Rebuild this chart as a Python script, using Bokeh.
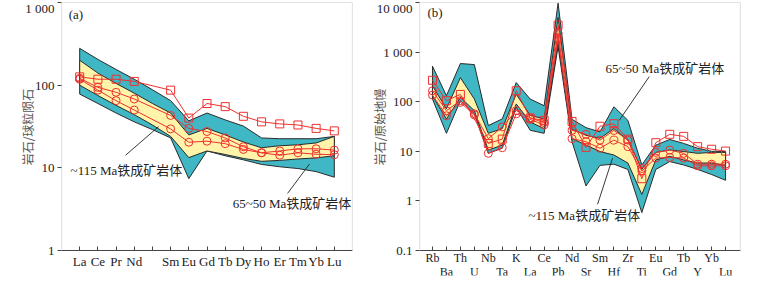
import numpy as np
from bokeh.plotting import figure
from bokeh.layouts import row
from bokeh.models import (FixedTicker, CustomJSTickFormatter, Label, Range1d, BoxAnnotation)
from bokeh.embed import file_html
from bokeh.resources import INLINE

# ---------------- (a) REE, chondrite normalised ----------------
ree = ["La", "Ce", "Pr", "Nd", "", "Sm", "Eu", "Gd", "Tb", "Dy", "Ho", "Er", "Tm", "Yb", "Lu"]
# envelope 65~50 Ma (blue)
a_blue_top = [279, 205, 155, 118, 88, 65, 37, 46, 38, 32, 23, 22.5, 22.5, 22.5, 24]
a_blue_bot = [78, 60, 46, 36, 29, 23, 7.4, 16, 14, 12.5, 11, 10.3, 9.8, 9, 7.7]
# envelope ~115 Ma (yellow)
a_yel_top = [200, 140, 105, 80, 60, 46, 25, 30, 25, 20.5, 17.5, 18.5, 19, 20, 24]
a_yel_bot = [100, 75, 57, 44, 33, 24, 13.3, 16, 14.5, 13, 12, 12.3, 12.8, 13.2, 14]
# samples (None = not analysed)
a_sq = [126, 118, 118, 111, None, 87, 40, 60, 55, 42, 36, 34, 33, 30, 28]
a_c1 = [121, 94, 82, 68, None, 43, 30, 27.5, 23, 18, 15.2, 16, 17, 17, 16.4]
a_c2 = [118, 87, 65, 50, None, 29.6, 20.4, 21, 19.6, 16.7, 15.2, 14.2, 15.2, 14.6, 14.4]

# ---------------- (b) spider, primitive mantle normalised ----------------
spd = ["Rb", "Ba", "Th", "U", "Nb", "Ta", "K", "La", "Ce", "Pb", "Nd", "Sr", "Sm", "Hf",
       "Zr", "Ti", "Eu", "Gd", "Tb", "Y", "Yb", "Lu"]
b_blue_top = [520, 132, 588, 560, 33, 45, 243, 113, 83, 9700, 44, 30, 24.6, 79, 42, 5.3,
              13.3, 17.3, 14.4, 11.5, 10, 9.9]
b_blue_bot = [113, 23, 105, 57, 9.1, 11.5, 77, 26.5, 23, 1300, 15.6, 2.0, 5.2, 5.5, 4.3, 0.58,
              4.3, 6.2, 5.3, 4.3, 3.4, 2.6]
b_yel_top = [208, 72, 305, 113, 23, 28.6, 142, 53, 45, 5000, 28, 21, 18.3, 28.6, 16.8, 4.3,
             9.5, 10.6, 9.9, 9.1, 9.5, 9.5]
b_yel_bot = [132, 45, 122, 66, 10.6, 13.3, 90, 39, 28.6, 1600, 18, 13.4, 9.9, 8.4, 5.8, 1.35,
             6.7, 7.9, 6.7, 5.8, 5.8, 5.2]
b_sq = [270, 105, 140, None, 14.4, 17.6, 166, 47, 42, 3500, 40, 12, 32, 36, 17.6, 2.8,
        14.9, 22, 20, 12.4, 11, 10.1]
b_c1 = [166, 66, 105, 57, 18, 31, 66, 47, 38, 2400, 26.5, 22, 16.8, 26.5, 16.8, 4.5,
        9.5, 10.6, 9.1, 5.5, 5.5, 5.5]
b_c2 = [136, 52, 97, 54, 9.1, 11.8, 57, 44, 34, 1900, 18, 15.6, 11.5, 16.8, 12.4, 4.0,
        7.3, 7.5, 7.3, 5.1, 5.1, 5.1]

label_old = "~115 Ma铁成矿岩体"
label_young = "65~50 Ma铁成矿岩体"

BLUE = "#3fb7c4"
YELLOW = "#fff4aa"
RED = "#f0302e"
EDGE = "#2b2b2b"
AX = "#444444"
SERIF = "Liberation Serif"
MIXED = "Liberation Serif, Noto Sans CJK SC"

yfmt = CustomJSTickFormatter(code="""
if (tick >= 1000) { return Math.round(tick).toString().replace(/\\B(?=(\\d{3})+(?!\\d))/g, ' '); }
if (tick < 1) { return tick.toFixed(1); }
return Math.round(tick).toString();
""")


def style(p, nx, yticks, xlo, xhi):
    ymin, ymax = yticks[0], yticks[-1]
    p.outline_line_color = None
    p.xgrid.visible = False
    p.ygrid.visible = False
    for ax in (p.xaxis[0], p.yaxis[0]):
        ax.axis_line_color = AX
        ax.major_tick_line_color = AX
        ax.minor_tick_line_color = None
        ax.major_label_text_font = SERIF
        ax.major_label_text_font_size = "13px"
        ax.major_label_text_color = "#222222"
    # x axis drawn at the lowest y value; the labels sit below it inside the frame
    p.xaxis.ticker = FixedTicker(ticks=list(range(nx)))
    p.xaxis.fixed_location = ymin
    p.xaxis.major_tick_in = 4
    p.xaxis.major_tick_out = 0
    p.xaxis.major_label_standoff = 4
    p.xaxis.major_label_text_line_height = 0.95
    p.yaxis.ticker = FixedTicker(ticks=yticks)
    p.yaxis.formatter = yfmt
    p.yaxis.axis_line_color = None
    p.yaxis.major_tick_in = 0
    p.yaxis.major_tick_out = 4
    p.yaxis.major_label_standoff = 3
    p.yaxis.axis_label_text_font = "Noto Sans CJK SC"
    p.yaxis.axis_label_text_font_style = "normal"
    p.yaxis.axis_label_text_font_size = "12px"
    p.yaxis.axis_label_text_color = "#555555"
    p.yaxis.axis_label_standoff = -14
    p.add_layout(BoxAnnotation(left=xlo, right=xhi, bottom=ymin, top=ymax, fill_color=None,
                               fill_alpha=0, line_color=AX, line_width=1.2, level="overlay"))


def band(p, top, bot, color):
    x = list(range(len(top)))
    p.patch(x + x[::-1], list(top) + list(bot)[::-1], fill_color=color,
            line_color=EDGE, line_width=1)


def series(p, vals, marker):
    xs = [i for i, v in enumerate(vals) if v is not None]
    ys = [v for v in vals if v is not None]
    p.line(xs, ys, line_color=RED, line_width=1)
    p.scatter(xs, ys, marker=marker, size=8, fill_color=None, line_color=RED, line_width=1)


# ---------------- panel a ----------------
pa = figure(width=361, height=283, y_axis_type="log", output_backend="svg",
            toolbar_location=None, x_range=Range1d(-1, 15), y_range=Range1d(0.4984, 1000),
            min_border_left=61, min_border_right=9, min_border_top=2, min_border_bottom=8)
style(pa, len(ree), [1, 10, 100, 1000], -1, 15)
pa.xaxis.major_label_overrides = {i: s for i, s in enumerate(ree)}
pa.yaxis.axis_label = "\u3000\u3000岩石/球粒陨石"

band(pa, a_blue_top, a_blue_bot, BLUE)
band(pa, a_yel_top, a_yel_bot, YELLOW)
series(pa, a_sq, "square")
series(pa, a_c1, "circle")
series(pa, a_c2, "circle")

pa.line([2.52, 4.34], [14.2, 31.5], line_color="#222222", line_width=0.9)
pa.line([11.43, 12.63], [4.9, 11.1], line_color="#222222", line_width=0.9)
for x, y, t in [(-0.6, 717, "(a)"), (-0.5, 9.16, label_old), (8.41, 3.73, label_young)]:
    pa.add_layout(Label(x=x, y=y, text=t, text_font=MIXED, text_font_size="13px",
                        text_baseline="middle", text_align="left", text_color="#222222"))

# ---------------- panel b ----------------
pb = figure(width=382, height=283, y_axis_type="log", output_backend="svg",
            toolbar_location=None, x_range=Range1d(-0.93, 22.07), y_range=Range1d(0.0313, 10000),
            min_border_left=58, min_border_right=3, min_border_top=2, min_border_bottom=8)
style(pb, len(spd), [0.1, 1, 10, 100, 1000, 10000], -0.93, 22.07)
# alternate element names on two rows
pb.xaxis.major_label_overrides = {i: (s if i % 2 == 0 else "\n" + s) for i, s in enumerate(spd)}
pb.xaxis.major_label_standoff = 1
pb.xaxis.major_label_text_font_size = "12px"
pb.yaxis.axis_label = "\u3000\u3000岩石/原始地幔"

band(pb, b_blue_top, b_blue_bot, BLUE)
band(pb, b_yel_top, b_yel_bot, YELLOW)
series(pb, b_sq, "square")
series(pb, b_c1, "circle")
series(pb, b_c2, "circle")

pb.line([15.53, 13.38], [320, 41.9], line_color="#222222", line_width=0.9)
pb.line([11.83, 12.9], [0.855, 7.26], line_color="#222222", line_width=0.9)
for x, y, t in [(-0.36, 6350, "(b)"), (12.4, 468, label_young), (6.88, 0.51, label_old)]:
    pb.add_layout(Label(x=x, y=y, text=t, text_font=MIXED, text_font_size="13px",
                        text_baseline="middle", text_align="left", text_color="#222222"))

layout = row(pa, pb)
open("out.html", "w").write(file_html(layout, INLINE))
